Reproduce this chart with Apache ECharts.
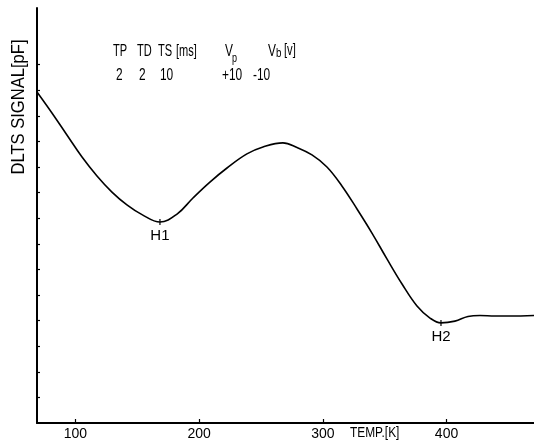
<!DOCTYPE html>
<html><head><meta charset="utf-8">
<script src="https://cdn.jsdelivr.net/npm/echarts@6/dist/echarts.min.js"></script>
<style>html,body{margin:0;padding:0;background:#fff}#c{width:534px;height:444px}</style>
</head><body><div id="c"></div>
<script>
// Temperature [K]
const temps = [68.9, 81.0, 93.1, 105.3, 117.4, 129.5, 141.6, 153.8, 168.3, 182.1, 195.0, 208.7, 222.5, 238.6, 251.6, 267.7, 279.1, 291.2, 303.3, 315.4, 327.6, 339.7, 351.8, 364.0, 376.1, 386.6, 395.5, 406.8, 417.3, 427.0, 439.1, 451.2, 470.7];
// DLTS signal (arbitrary tick units)
const signal = [12.93, 12.11, 11.25, 10.39, 9.65, 9.02, 8.52, 8.14, 7.85, 8.16, 8.79, 9.41, 9.96, 10.51, 10.78, 10.94, 10.76, 10.47, 10.00, 9.26, 8.36, 7.42, 6.41, 5.43, 4.57, 4.10, 3.91, 3.98, 4.16, 4.20, 4.18, 4.18, 4.20];
// Peak labels at indices
const peakNames = {8: 'H1', 26: 'H2'};
const xTicks = [100, 200, 300, 400];
const yTicks = [1,2,3,4,5,6,7,8,9,10,11,12,13,14];
const headerRow1 = ['TP', 'TD', 'TS', '[ms]'];
const headerRow2 = ['2', '2', '10', '+10', '-10'];

const FONT = '"Liberation Sans",Arial,sans-serif';

const data = temps.map((t, i) => {
  const item = {value: [t, signal[i]]};
  if (peakNames[i]) {
    item.symbol = 'rect';
    item.symbolSize = [1.2, 6];
    item.label = {show: true, formatter: peakNames[i], position: 'bottom', distance: 3,
      color: '#000', fontSize: 15, fontFamily: FONT};
  }
  return item;
});

function txt(x, y, s, size, sx) {
  return {
    type: 'text', x: x, y: y, scaleX: sx, scaleY: 1,
    style: {text: s, x: 0, y: 0, fill: '#000', font: size + 'px ' + FONT, align: 'left', verticalAlign: 'middle'}
  };
}

const chart = echarts.init(document.getElementById('c'), null, {renderer: 'canvas'});
chart.setOption({
  animation: false,
  backgroundColor: '#fff',
  grid: {left: 37, right: 0, top: 8, bottom: 21, containLabel: false},
  xAxis: {
    type: 'value', min: 68.9, max: 470.7,
    axisLine: {show: true, onZero: false, lineStyle: {color: '#000', width: 2}},
    axisTick: {show: true, inside: true, length: 4, customValues: xTicks, lineStyle: {color: '#000', width: 1.2}},
    axisLabel: {show: true, customValues: xTicks, color: '#000', fontSize: 14, fontFamily: FONT, margin: 4},
    splitLine: {show: false}
  },
  yAxis: {
    type: 'value', min: 0, max: 16.21,
    axisLine: {show: true, onZero: false, lineStyle: {color: '#000', width: 2}},
    axisTick: {show: true, inside: true, length: 3, customValues: yTicks, lineStyle: {color: '#000', width: 1.2}},
    axisLabel: {show: false},
    splitLine: {show: false}
  },
  series: [{
    type: 'line', data: data, smooth: 0.4,
    symbol: 'none', showSymbol: true,
    lineStyle: {color: '#000', width: 1.6},
    itemStyle: {color: '#000'},
    silent: true
  }],
  graphic: [
    // y-axis title (rotated)
    {type: 'text', x: 19, y: 107, rotation: Math.PI / 2, scaleX: 0.92,
      style: {text: 'DLTS SIGNAL[pF]', x: 0, y: 0, fill: '#000', font: '18px ' + FONT, align: 'center', verticalAlign: 'middle'}},
    txt(350, 433, 'TEMP.[K]', 14, 0.85),
    txt(113, 51, headerRow1[0], 17, 0.65),
    txt(137, 51, headerRow1[1], 17, 0.65),
    txt(158, 51, headerRow1[2], 17, 0.65),
    txt(176, 51, headerRow1[3], 17, 0.65),
    txt(225, 51, 'V', 17, 0.7),
    txt(232, 59, 'p', 12, 0.75),
    txt(268, 51, 'V', 17, 0.7),
    txt(276, 53, 'b', 13, 0.75),
    txt(284, 51, '[v]', 16, 0.7),
    txt(116, 75, headerRow2[0], 17, 0.7),
    txt(139, 75, headerRow2[1], 17, 0.7),
    txt(160, 75, headerRow2[2], 17, 0.7),
    txt(222, 75, headerRow2[3], 17, 0.7),
    txt(253, 75, headerRow2[4], 17, 0.7)
  ]
});
</script></body></html>
